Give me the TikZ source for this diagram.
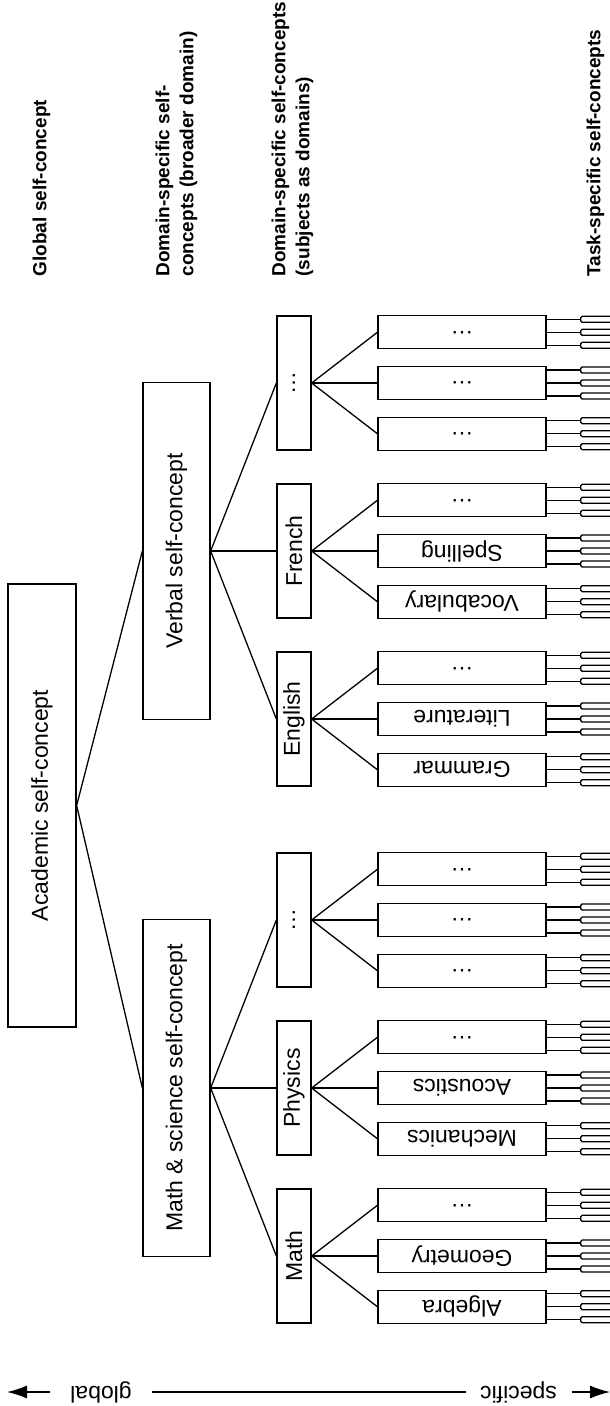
\documentclass[tikz,border=0pt]{standalone}
\usepackage{fontspec}
\setmainfont{Liberation Sans}
\usepackage{graphicx}
\usetikzlibrary{arrows.meta, positioning, calc}

\begin{document}
\begin{tikzpicture}[x=1pt, y=-1pt, line width=1.3pt,
  every node/.style={font=\fontsize{23}{27}\selectfont, inner sep=0pt},
  bigbox/.style={draw, minimum width=67pt, minimum height=337pt},
  subbox/.style={draw, minimum width=34pt, minimum height=134pt},
  taskbox/.style={draw, minimum width=168pt, minimum height=33pt},
  level/.style={font=\fontsize{19}{24}\selectfont\bfseries, rotate=90, anchor=north west, align=left},
  axis tip/.style={-{Latex[length=20pt,width=13pt]}}]
  \useasboundingbox (0,0) rectangle (610,1406);

  \node[draw, minimum width=68pt, minimum height=443pt] (acad) at (42,805.5) {\rotatebox{90}{Academic self-concept}};
  \node[bigbox] (verbal) at (176.5,551) {\rotatebox{90}{Verbal self-concept}};
  \node[bigbox] (mathsci) at (176.5,1088) {\rotatebox{90}{Math \& science self-concept}};
  \draw (acad.east) -- (verbal.west);
  \draw (acad.east) -- (mathsci.west);

  \foreach \name/\y/\txt/\parent in {math/1256/Math/mathsci, physics/1088/Physics/mathsci,
      mdots/920/\dots/mathsci, english/719/English/verbal, french/551/French/verbal, vdots/383/\dots/verbal} {
    \node[subbox] (\name) at (294,\y) {\rotatebox{90}{\txt}};
    \draw (\parent.east) -- (\name.west);
  }

  \foreach \name/\a/\b/\c in {math/Algebra/Geometry/\dots, physics/Mechanics/Acoustics/\dots,
      mdots/\dots/\dots/\dots, english/Grammar/Literature/\dots,
      french/Vocabulary/Spelling/\dots, vdots/\dots/\dots/\dots} {
    \foreach \txt [count=\i] in {\a,\b,\c} {
      \node[taskbox] (\name-\i) at ($(\name)+(168,{50.7*(2-\i)})$) {\rotatebox{180}{\txt}};
      \draw (\name.east) -- (\name-\i.west);
      \foreach \o in {-13,0,13} {
        \draw ([yshift=\o pt]\name-\i.east) -- ++(34,0) coordinate (fk);
        \draw[rounded corners=1.5pt] ([shift={(30,-3)}]fk) -- ([shift={(0,-3)}]fk)
          -- ([shift={(0,3)}]fk) -- ([shift={(30,3)}]fk);
      }
    }
  }

  \node[level] (lglobal) at (32,277) {Global self-concept};
  \node[level] (lbroad) at (155,277) {Domain-specific self-\\concepts (broader domain)};
  \node[level] (lsubj) at (271,277) {Domain-specific self-concepts\\(subjects as domains)};
  \node[level] (ltask) at (586,277) {Task-specific self-concepts};

  \node[inner xsep=20pt] (glob) at (101,1392) {\rotatebox{180}{global}};
  \node[inner xsep=14pt] (spec) at (518.5,1392) {\rotatebox{180}{specific}};
  \coordinate (gtip) at (7,1392);
  \coordinate (stip) at (610,1392);
  \draw[axis tip] (glob) -- (gtip);
  \draw (glob) -- (spec);
  \draw[axis tip] (spec) -- (stip);
\end{tikzpicture}
\end{document}
